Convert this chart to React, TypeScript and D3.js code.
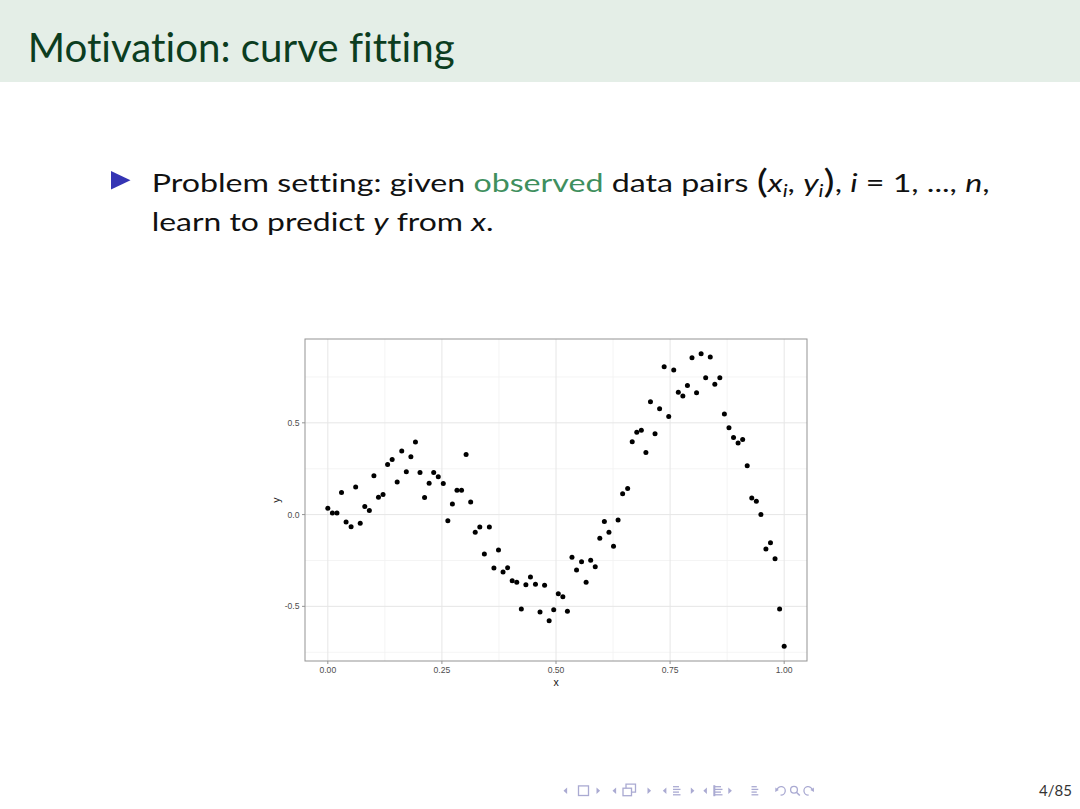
import React, { useRef, useEffect } from 'react'
import * as d3 from 'd3'

const xValues = [
  0.000, 0.010, 0.020, 0.030, 0.040, 0.051, 0.061, 0.071, 0.081, 0.091,
  0.101, 0.111, 0.121, 0.131, 0.141, 0.152, 0.162, 0.172, 0.182, 0.192,
  0.202, 0.212, 0.222, 0.232, 0.242, 0.253, 0.263, 0.273, 0.283, 0.293,
  0.303, 0.313, 0.323, 0.333, 0.343, 0.354, 0.364, 0.374, 0.384, 0.394,
  0.404, 0.414, 0.424, 0.434, 0.444, 0.455, 0.465, 0.475, 0.485, 0.495,
  0.505, 0.515, 0.525, 0.535, 0.545, 0.556, 0.566, 0.576, 0.586, 0.596,
  0.606, 0.616, 0.626, 0.636, 0.646, 0.657, 0.667, 0.677, 0.687, 0.697,
  0.707, 0.717, 0.727, 0.737, 0.747, 0.758, 0.768, 0.778, 0.788, 0.798,
  0.808, 0.818, 0.828, 0.838, 0.848, 0.859, 0.869, 0.879, 0.889, 0.899,
  0.909, 0.919, 0.929, 0.939, 0.949, 0.960, 0.970, 0.980, 0.990, 1.000
]

const yValues = [
  0.034, 0.009, 0.009, 0.121, -0.040, -0.066, 0.151, -0.047, 0.044, 0.022,
  0.211, 0.094, 0.109, 0.273, 0.300, 0.177, 0.346, 0.233, 0.315, 0.395,
  0.229, 0.093, 0.171, 0.229, 0.206, 0.169, -0.033, 0.058, 0.132, 0.132,
  0.328, 0.068, -0.096, -0.067, -0.215, -0.067, -0.291, -0.193, -0.313, -0.289,
  -0.360, -0.369, -0.515, -0.382, -0.340, -0.380, -0.531, -0.385, -0.579, -0.519,
  -0.431, -0.448, -0.526, -0.233, -0.302, -0.257, -0.369, -0.249, -0.284, -0.129,
  -0.038, -0.096, -0.172, -0.029, 0.114, 0.142, 0.397, 0.448, 0.459, 0.338,
  0.615, 0.441, 0.577, 0.805, 0.535, 0.788, 0.666, 0.646, 0.704, 0.854,
  0.664, 0.877, 0.745, 0.859, 0.710, 0.745, 0.548, 0.473, 0.420, 0.390,
  0.409, 0.266, 0.090, 0.073, 0.000, -0.187, -0.153, -0.240, -0.515, -0.718
]

const xBreaks = [0, 0.25, 0.5, 0.75, 1]
const xLabels = ['0.00', '0.25', '0.50', '0.75', '1.00']
const xMinor = [0.125, 0.375, 0.625, 0.875]
const yBreaks = [-0.5, 0, 0.5]
const yLabels = ['-0.5', '0.0', '0.5']
const yMinor = [-0.75, -0.25, 0.25, 0.75]

const titleText = 'Motivation: curve fitting'
const pageLabel = '4/85'

const NAV = '#aaaad2'
const FONT = 'Lato, "Open Sans", sans-serif'
const NO_LIGA = 'font-variant-ligatures: none; font-feature-settings: "liga" 0, "clig" 0;'

function CurveFittingSlide() {
  const svgRef = useRef<SVGSVGElement>(null)

  useEffect(() => {
    const svg = d3.select(svgRef.current)
    svg.selectAll('*').remove()

    svg.append('rect').attr('width', 1080).attr('height', 809).attr('fill', '#ffffff')

    // squeeze/stretch a text line to the width it has on the slide
    const fitted: Array<[any, number]> = []
    const fit = () => {
      fitted.forEach(([t, w]) => {
        t.attr('transform', null)
        const len = (t.node() as SVGTextElement).getComputedTextLength()
        if (len > 0) t.attr('transform', `scale(${w / len},1)`)
      })
    }

    // title bar
    svg.append('rect').attr('width', 1080).attr('height', 82).attr('fill', '#e4eee7')
    const title = svg.append('g').attr('transform', 'translate(27.7,62)')
      .append('text')
      .attr('font-family', FONT)
      .attr('font-size', 41)
      .attr('fill', '#0c3d1f')
      .attr('style', NO_LIGA)
      .text(titleText)
    fitted.push([title, 427])

    // bullet
    svg.append('path')
      .attr('d', 'M111,171 L130.5,180.2 L111,189.4 Z')
      .attr('fill', '#3434b4')

    const line1 = svg.append('g').attr('transform', 'translate(151.7,191.7)')
      .append('text')
      .attr('font-family', FONT)
      .attr('font-size', 25.5)
      .attr('fill', '#111')
      .attr('style', NO_LIGA)
    const seg = (t: any, s: string, opts: any = {}) => {
      const ts = t.append('tspan').text(s)
      if (opts.italic) ts.attr('font-style', 'italic')
      if (opts.fill) ts.attr('fill', opts.fill)
      if (opts.size) ts.attr('font-size', opts.size)
      if (opts.dy) ts.attr('dy', opts.dy)
      return ts
    }
    seg(line1, 'Problem setting: given ')
    seg(line1, 'observed', { fill: '#3f8f5e' })
    seg(line1, ' data pairs ')
    seg(line1, '(', { size: 33, dy: 1.5 })
    seg(line1, 'x', { italic: true, dy: -1.5 })
    seg(line1, 'i', { italic: true, size: 17, dy: 5 })
    seg(line1, ', ', { dy: -5 })
    seg(line1, 'y', { italic: true })
    seg(line1, 'i', { italic: true, size: 17, dy: 5 })
    seg(line1, ')', { size: 33, dy: -3.5 })
    seg(line1, ', ', { dy: -1.5 })
    seg(line1, 'i', { italic: true })
    seg(line1, ' = 1, ..., ')
    seg(line1, 'n', { italic: true })
    seg(line1, ',')
    fitted.push([line1, 838])

    const line2 = svg.append('g').attr('transform', 'translate(151.7,231)')
      .append('text')
      .attr('font-family', FONT)
      .attr('font-size', 25.5)
      .attr('fill', '#111')
      .attr('style', NO_LIGA)
    seg(line2, 'learn to predict ')
    seg(line2, 'y', { italic: true })
    seg(line2, ' from ')
    seg(line2, 'x', { italic: true })
    seg(line2, '.')
    fitted.push([line2, 342])

    // scatter plot (ggplot-like, 5% expansion)
    const left = 305, right = 807, top = 339, bottom = 661
    const [x0, x1] = d3.extent(xValues) as [number, number]
    const [y0, y1] = d3.extent(yValues) as [number, number]
    const xPad = (x1 - x0) * 0.05
    const yPad = (y1 - y0) * 0.05
    const x = d3.scaleLinear().domain([x0 - xPad, x1 + xPad]).range([left, right])
    const y = d3.scaleLinear().domain([y0 - yPad, y1 + yPad]).range([bottom, top])

    const plot = svg.append('g')

    plot.selectAll('.xminor').data(xMinor).join('line')
      .attr('x1', d => x(d)).attr('x2', d => x(d))
      .attr('y1', top).attr('y2', bottom)
      .attr('stroke', '#f1f1f1').attr('stroke-width', 0.8)
    plot.selectAll('.yminor').data(yMinor).join('line')
      .attr('y1', d => y(d)).attr('y2', d => y(d))
      .attr('x1', left).attr('x2', right)
      .attr('stroke', '#f1f1f1').attr('stroke-width', 0.8)
    plot.selectAll('.xmajor').data(xBreaks).join('line')
      .attr('x1', d => x(d)).attr('x2', d => x(d))
      .attr('y1', top).attr('y2', bottom)
      .attr('stroke', '#e6e6e6').attr('stroke-width', 1)
    plot.selectAll('.ymajor').data(yBreaks).join('line')
      .attr('y1', d => y(d)).attr('y2', d => y(d))
      .attr('x1', left).attr('x2', right)
      .attr('stroke', '#e6e6e6').attr('stroke-width', 1)

    plot.selectAll('circle').data(xValues).join('circle')
      .attr('cx', d => x(d))
      .attr('cy', (d, i) => y(yValues[i]))
      .attr('r', 2.5)
      .attr('fill', '#000')

    plot.append('rect')
      .attr('x', left).attr('y', top)
      .attr('width', right - left).attr('height', bottom - top)
      .attr('fill', 'none').attr('stroke', '#939393').attr('stroke-width', 1)

    // ticks and labels
    plot.selectAll('.xtick').data(xBreaks).join('line')
      .attr('x1', d => x(d)).attr('x2', d => x(d))
      .attr('y1', bottom).attr('y2', bottom + 3)
      .attr('stroke', '#939393')
    plot.selectAll('.xlab').data(xBreaks).join('text')
      .attr('x', d => x(d)).attr('y', 672.5)
      .attr('text-anchor', 'middle')
      .attr('font-family', '"Liberation Sans", Arial, sans-serif')
      .attr('font-size', 8.6)
      .attr('fill', '#4d4d4d')
      .text((d, i) => xLabels[i])
    plot.selectAll('.ytick').data(yBreaks).join('line')
      .attr('y1', d => y(d)).attr('y2', d => y(d))
      .attr('x1', left - 3).attr('x2', left)
      .attr('stroke', '#939393')
    plot.selectAll('.ylab').data(yBreaks).join('text')
      .attr('x', 299.5).attr('y', d => y(d) + 3.1)
      .attr('text-anchor', 'end')
      .attr('font-family', '"Liberation Sans", Arial, sans-serif')
      .attr('font-size', 8.6)
      .attr('fill', '#4d4d4d')
      .text((d, i) => yLabels[i])

    plot.append('text')
      .attr('x', (left + right) / 2).attr('y', 685.5)
      .attr('text-anchor', 'middle')
      .attr('font-family', '"Liberation Sans", Arial, sans-serif')
      .attr('font-size', 10.5)
      .attr('fill', '#111')
      .text('x')
    plot.append('text')
      .attr('transform', `translate(279.5,${(top + bottom) / 2}) rotate(-90)`)
      .attr('text-anchor', 'middle')
      .attr('font-family', '"Liberation Sans", Arial, sans-serif')
      .attr('font-size', 10.5)
      .attr('fill', '#111')
      .text('y')

    // beamer navigation symbols
    const nav = svg.append('g').attr('fill', NAV).attr('stroke', NAV)
    const cy = 790.7
    const tri = (px: number, dir: number) => {
      const d = dir < 0
        ? `M${px + 3.6},${cy - 3.2} L${px},${cy} L${px + 3.6},${cy + 3.2} Z`
        : `M${px},${cy - 3.2} L${px + 3.6},${cy} L${px},${cy + 3.2} Z`
      nav.append('path').attr('d', d).attr('stroke', 'none')
    }
    const bars = (px: number, w: number) => {
      ;[-4, -1.3, 1.4, 4.1].forEach((o, i) => {
        nav.append('line')
          .attr('x1', px).attr('x2', px + (i % 2 ? w : w - 1.5))
          .attr('y1', cy + o).attr('y2', cy + o)
          .attr('stroke-width', 1.3)
      })
    }
    tri(563.5, -1)
    nav.append('rect').attr('x', 578.5).attr('y', cy - 4.8).attr('width', 10).attr('height', 9.6)
      .attr('fill', 'none').attr('stroke-width', 1.3)
    tri(596.5, 1)
    tri(612.5, -1)
    nav.append('rect').attr('x', 623).attr('y', cy - 2.5).attr('width', 8.5).attr('height', 7.5)
      .attr('fill', 'none').attr('stroke-width', 1.3)
    nav.append('path')
      .attr('d', `M626,${cy - 2.5} L626,${cy - 6.5} L635.5,${cy - 6.5} L635.5,${cy + 1.5} L631.5,${cy + 1.5}`)
      .attr('fill', 'none').attr('stroke-width', 1.3)
    tri(647.5, 1)
    tri(662.8, -1)
    bars(673, 7.5)
    tri(690.8, 1)
    tri(703.3, -1)
    bars(714, 8.5)
    nav.append('rect').attr('x', 713.3).attr('y', cy - 5.5).attr('width', 2).attr('height', 11).attr('stroke', 'none')
    tri(728.3, 1)
    bars(751.5, 6.8)
    nav.append('path')
      .attr('d', `M777,${cy - 1} A4.2,4.2 0 1 1 780.6,${cy + 4.3}`)
      .attr('fill', 'none').attr('stroke-width', 1.3)
    nav.append('path').attr('d', `M775.4,${cy - 3.2} L778.8,${cy - 0.6} L775.2,${cy + 1.2} Z`).attr('stroke', 'none')
    nav.append('circle').attr('cx', 794).attr('cy', cy - 1).attr('r', 3.4)
      .attr('fill', 'none').attr('stroke-width', 1.3)
    nav.append('line').attr('x1', 796.4).attr('y1', cy + 1.5).attr('x2', 799.8).attr('y2', cy + 4.8)
      .attr('stroke-width', 1.6)
    nav.append('path')
      .attr('d', `M812.2,${cy - 1} A4.2,4.2 0 1 0 808.6,${cy + 4.3}`)
      .attr('fill', 'none').attr('stroke-width', 1.3)
    nav.append('path').attr('d', `M813.8,${cy - 3.2} L810.4,${cy - 0.6} L814,${cy + 1.2} Z`).attr('stroke', 'none')

    svg.append('text')
      .attr('x', 1072).attr('y', 795.7)
      .attr('text-anchor', 'end')
      .attr('font-family', FONT)
      .attr('font-size', 15)
      .attr('fill', '#333')
      .text(pageLabel)

    fit()
    if ((document as any).fonts?.ready) (document as any).fonts.ready.then(fit)

    return () => {
      svg.selectAll('*').remove()
    }
  }, [])

  return (
    <svg
      ref={svgRef}
      width={1080}
      height={809}
      style={{ position: 'absolute', left: 0, top: 0, display: 'block' }}
    />
  )
}

export default function App() {
  return <CurveFittingSlide />
}
